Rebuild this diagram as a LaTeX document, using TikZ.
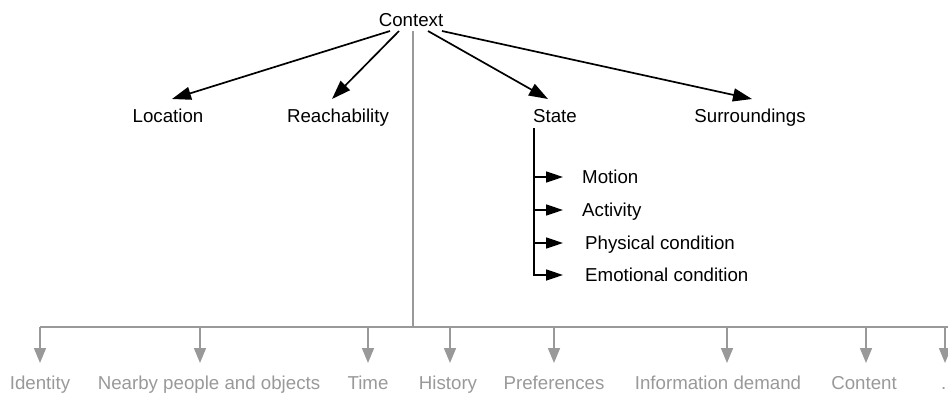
\documentclass[tikz,border=0pt]{standalone}
\usepackage{fontspec}
\setmainfont{Liberation Sans}
\usetikzlibrary{arrows.meta}
\definecolor{busgray}{HTML}{999999}
\begin{document}
\begin{tikzpicture}[x=1pt,y=-1pt,
  every node/.style={font=\fontsize{18.7}{22}\selectfont, inner sep=0pt,
    text height=13pt, text depth=4pt},
  toplabel/.style={anchor=base, outer ysep=10pt},
  sublabel/.style={anchor=west, text depth=0pt},
  leaf/.style={anchor=base, text=busgray, outer ysep=13pt},
  link/.style={line width=1.7pt, -{Triangle[length=19pt,width=13pt]}},
  subarrow/.style={line width=1.7pt, -{Triangle[length=17pt,width=11pt]}},
  trunk/.style={line width=1.7pt},
  busline/.style={draw=busgray, line width=1.6pt},
  drop/.style={draw=busgray, line width=1.6pt, -{Triangle[length=15pt,width=12pt]}}
]
\useasboundingbox (0,0) rectangle (948,392);

% root
\node[anchor=base, outer ysep=1pt] (ctx) at (411,26) {Context};

% first level
\node[toplabel] (loc) at (168,122) {Location};
\node[toplabel] (rea) at (338,122) {Reachability};
\node[toplabel] (sta) at (555,122) {State};
\node[toplabel] (sur) at (750,122) {Surroundings};

\draw[link] ([xshift=-21pt]ctx.south) -- ([xshift=4pt]loc.north);
\draw[link] ([xshift=-12pt]ctx.south) -- ([xshift=-6pt]rea.north);
\draw[link] ([xshift=17pt]ctx.south) -- ([xshift=-7pt]sta.north);
\draw[link] ([xshift=31pt]ctx.south) -- ([xshift=2pt]sur.north);

% state details
\coordinate (stem) at ([xshift=-21pt,yshift=-6pt]sta.base);
\node[sublabel] (mot) at (582,177) {Motion};
\node[sublabel] (act) at (582,210) {Activity};
\node[sublabel] (phy) at (585,243) {Physical condition};
\node[sublabel] (emo) at (585,275) {Emotional condition};

\draw[subarrow] (stem) |- ([xshift=-22pt]emo.west);
\draw[subarrow] (stem |- mot.west) -- ([xshift=-19pt]mot.west);
\draw[subarrow] (stem |- act.west) -- ([xshift=-19pt]act.west);
\draw[subarrow] (stem |- phy.west) -- ([xshift=-22pt]phy.west);

% gray bus with further context types
\coordinate (busL) at (40,327);
\coordinate (busR) at (960,327);
\draw[busline] ([xshift=2pt]ctx.south) -- ([xshift=2pt]ctx.south |- busL);
\draw[busline] (busL) -- (busR);

\node[leaf] (l1) at (40,389) {Identity};
\node[leaf] (l2) at (209,389) {Nearby people and objects};
\node[leaf] (l3) at (368,389) {Time};
\node[leaf] (l4) at (448,389) {History};
\node[leaf] (l5) at (554,389) {Preferences};
\node[leaf] (l6) at (718,389) {Information demand};
\node[leaf] (l7) at (864,389) {Content};
\node[leaf, anchor=base west] (l8) at (941,389) {...};

\coordinate (d2) at (200,327);
\coordinate (d3) at (368,327);
\coordinate (d4) at (450,327);
\coordinate (d5) at (554,327);
\coordinate (d6) at (727,327);
\coordinate (d7) at (866,327);
\coordinate (d8) at (945,327);

\draw[drop] (busL) -- (busL |- l1.north);
\draw[drop] (d2) -- (d2 |- l2.north);
\draw[drop] (d3) -- (d3 |- l3.north);
\draw[drop] (d4) -- (d4 |- l4.north);
\draw[drop] (d5) -- (d5 |- l5.north);
\draw[drop] (d6) -- (d6 |- l6.north);
\draw[drop] (d7) -- (d7 |- l7.north);
\draw[drop] (d8) -- (d8 |- l8.north);
\end{tikzpicture}
\end{document}
